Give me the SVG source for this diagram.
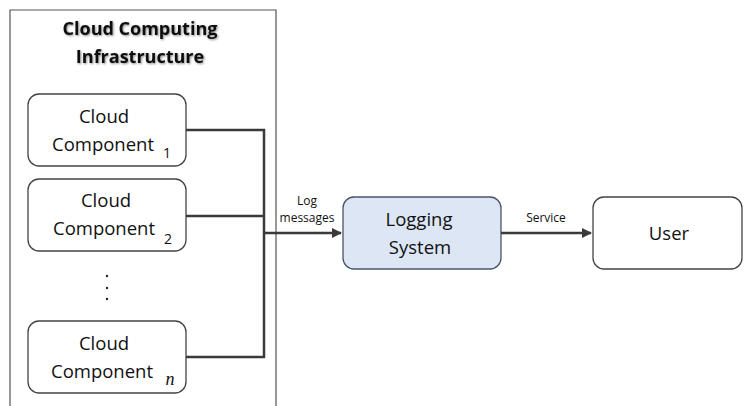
<svg xmlns="http://www.w3.org/2000/svg" width="744" height="406" viewBox="0 0 744 406">
<style>
text{font-family:"Open Sans","Liberation Sans",sans-serif;fill:#111;text-anchor:middle}
.node{fill:#fff;stroke:#444;stroke-width:1.3}
.big{font-size:18.5px}
.small{font-size:12px}
.sub{font-size:14px}
.title{font-size:18px;font-weight:bold}
.wire{fill:none;stroke:#3a3a3a;stroke-width:2.5}
</style>
<defs>
<marker id="arr" viewBox="0 0 10 10" refX="9" refY="5" markerWidth="4" markerHeight="4" orient="auto"><path d="M0,0 L10,5 L0,10 z" fill="#3a3a3a"/></marker>
<filter id="glow" x="-10%" y="-30%" width="120%" height="160%"><feDropShadow dx="1" dy="1" stdDeviation="1.2" flood-color="#000" flood-opacity="0.45"/></filter>
</defs>
<g id="infrastructure">
<path d="M10,406 L10,10 L276,10 L276,406" fill="none" stroke="#555" stroke-width="1.2"/>
<text class="title" x="140" y="35" filter="url(#glow)">Cloud Computing</text>
<text class="title" x="140" y="63" filter="url(#glow)">Infrastructure</text>
</g>
<g id="component1">
<rect class="node" x="28" y="94" width="158" height="72" rx="11"/>
<text class="big" x="104" y="123">Cloud</text>
<text class="big" x="103" y="151">Component</text>
<text class="sub" x="167" y="158">1</text>
</g>
<g id="component2">
<rect class="node" x="28" y="179" width="158" height="72" rx="11"/>
<text class="big" x="106" y="207">Cloud</text>
<text class="big" x="104" y="235">Component</text>
<text class="sub" x="168" y="244">2</text>
</g>
<g id="dots">
<circle cx="107" cy="276" r="1.2" fill="#222"/>
<circle cx="107" cy="288" r="1.2" fill="#222"/>
<circle cx="107" cy="299" r="1.2" fill="#222"/>
</g>
<g id="componentn">
<rect class="node" x="28" y="321" width="158" height="72" rx="11"/>
<text class="big" x="104" y="350">Cloud</text>
<text class="big" x="102" y="378">Component</text>
<text x="170" y="385" style="font-family:'Liberation Serif',serif;font-style:italic;font-size:18px">n</text>
</g>
<g id="logging">
<rect x="343" y="197" width="158" height="72" rx="11" fill="#dce6f4" stroke="#4a5566" stroke-width="1.3"/>
<text class="big" x="419" y="226">Logging</text>
<text class="big" x="420" y="254">System</text>
</g>
<g id="user">
<rect class="node" x="593" y="197" width="149" height="72" rx="11"/>
<text class="big" x="669" y="240">User</text>
</g>
<g id="connectors">
<path class="wire" d="M186,130 H264 V357 H186"/>
<path class="wire" d="M186,216 H264"/>
<path class="wire" d="M264,233 H341" marker-end="url(#arr)"/>
<path class="wire" d="M501,233 H591" marker-end="url(#arr)"/>
<text class="small" x="307" y="205">Log</text>
<text class="small" x="307" y="222">messages</text>
<text class="small" x="546" y="222">Service</text>
</g>
</svg>
